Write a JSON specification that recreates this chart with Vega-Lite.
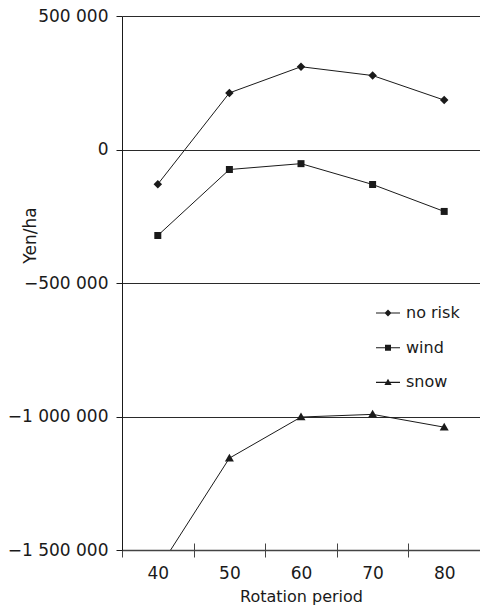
{
  "$schema": "https://vega.github.io/schema/vega-lite/v6.json",
  "width": 358,
  "height": 534,
  "autosize": {"type": "none"},
  "padding": {"left": 122, "top": 16, "right": 0, "bottom": 57},
  "background": "white",
  "config": {
    "view": {"stroke": null},
    "font": "DejaVu Sans",
    "locale": {"number": {"decimal": ".", "thousands": " ", "grouping": [3], "currency": ["", ""], "minus": "−"}}
  },
  "data": {
    "values": [
      {"period": "40", "scenario": "no risk", "value": -130000},
      {"period": "50", "scenario": "no risk", "value": 212000},
      {"period": "60", "scenario": "no risk", "value": 310000},
      {"period": "70", "scenario": "no risk", "value": 277000},
      {"period": "80", "scenario": "no risk", "value": 185000},
      {"period": "40", "scenario": "wind", "value": -322000},
      {"period": "50", "scenario": "wind", "value": -75000},
      {"period": "60", "scenario": "wind", "value": -53000},
      {"period": "70", "scenario": "wind", "value": -131000},
      {"period": "80", "scenario": "wind", "value": -232000},
      {"period": "40", "scenario": "snow", "value": -1575000},
      {"period": "50", "scenario": "snow", "value": -1156000},
      {"period": "60", "scenario": "snow", "value": -1002000},
      {"period": "70", "scenario": "snow", "value": -992000},
      {"period": "80", "scenario": "snow", "value": -1040000}
    ]
  },
  "layer": [
    {
      "mark": {"type": "line", "clip": true, "color": "#1a1a1a", "strokeWidth": 1},
      "encoding": {
        "x": {
          "field": "period", "type": "ordinal",
          "scale": {"type": "band", "paddingInner": 0, "paddingOuter": 0},
          "axis": {
            "orient": "bottom", "tickBand": "extent", "tickSize": 7, "labelAngle": 0,
            "labelFontSize": 17, "labelColor": "#1a1a1a", "labelPadding": 8,
            "domainColor": "#444", "domainWidth": 1.5, "tickColor": "#444", "tickWidth": 1,
            "grid": false,
            "title": "Rotation period", "titleFontSize": 16, "titleFontWeight": "normal",
            "titleColor": "#1a1a1a", "titlePadding": 7
          }
        },
        "y": {
          "field": "value", "type": "quantitative",
          "scale": {"domain": [-1500000, 500000], "nice": false, "zero": false},
          "axis": {
            "values": [-1500000, -1000000, -500000, 0, 500000],
            "format": ",d",
            "tickSize": 6, "tickColor": "#1a1a1a", "domainColor": "#1a1a1a",
            "labelFontSize": 17, "labelColor": "#1a1a1a", "labelPadding": 8,
            "grid": true, "gridColor": "#2a2a2a", "gridWidth": 1, "gridOpacity": 1,
            "title": "Yen/ha", "titleFontSize": 17, "titleFontWeight": "normal", "titleColor": "#1a1a1a",
            "titleAngle": -90, "titleX": -92, "titleY": 219, "titleAlign": "center", "titleBaseline": "middle"
          }
        },
        "detail": {"field": "scenario"}
      }
    },
    {
      "mark": {"type": "point", "clip": true, "filled": true, "color": "#1a1a1a", "opacity": 1, "size": 100, "strokeWidth": 0},
      "encoding": {
        "x": {"field": "period", "type": "ordinal", "axis": null},
        "y": {"field": "value", "type": "quantitative"},
        "shape": {
          "field": "scenario",
          "scale": {
            "domain": ["no risk", "wind", "snow"],
            "range": [
              "M0,-0.85L0.85,0L0,0.85L-0.85,0Z",
              "M-0.7,-0.7H0.7V0.7H-0.7Z",
              "M0,-0.9L0.9,0.65H-0.9Z"
            ]
          },
          "legend": null
        }
      }
    },
    {
      "transform": [{"filter": "false"}],
      "mark": {"type": "point", "filled": true, "color": "#1a1a1a", "opacity": 1},
      "encoding": {
        "x": {
          "field": "period", "type": "ordinal",
          "axis": {
            "orient": "bottom", "tickBand": "extent", "tickSize": -7, "labels": false,
            "domain": false, "grid": false, "title": null, "tickColor": "#444", "tickWidth": 1
          }
        },
        "y": {"field": "value", "type": "quantitative"},
        "shape": {
          "field": "scenario",
          "scale": {
            "domain": ["no risk", "wind", "snow"],
            "range": [
              "M-1,-0.045L1,-0.045L1,0.045L-1,0.045ZM0,-0.29L0.29,0L0,0.29L-0.29,0Z",
              "M-1,-0.045L1,-0.045L1,0.045L-1,0.045ZM-0.25,-0.25L0.25,-0.25L0.25,0.25L-0.25,0.25Z",
              "M-1,-0.045L1,-0.045L1,0.045L-1,0.045ZM0,-0.3L0.3,0.22L-0.3,0.22Z"
            ]
          },
          "legend": {
            "orient": "none", "legendX": 254, "legendY": 285, "title": null, "padding": 0,
            "symbolSize": 576, "labelFontSize": 16, "labelColor": "#1a1a1a", "labelOffset": 6,
            "rowPadding": 14.7,
            "symbolFillColor": "#1a1a1a", "symbolStrokeWidth": 0, "symbolOpacity": 1,
            "encode": {
              "symbols": {"update": {"fill": {"value": "#1a1a1a"}, "fillOpacity": {"value": 1}, "opacity": {"value": 1}}}
            }
          }
        }
      }
    }
  ],
  "resolve": {"scale": {"shape": "independent"}, "axis": {"x": "independent"}}
}
